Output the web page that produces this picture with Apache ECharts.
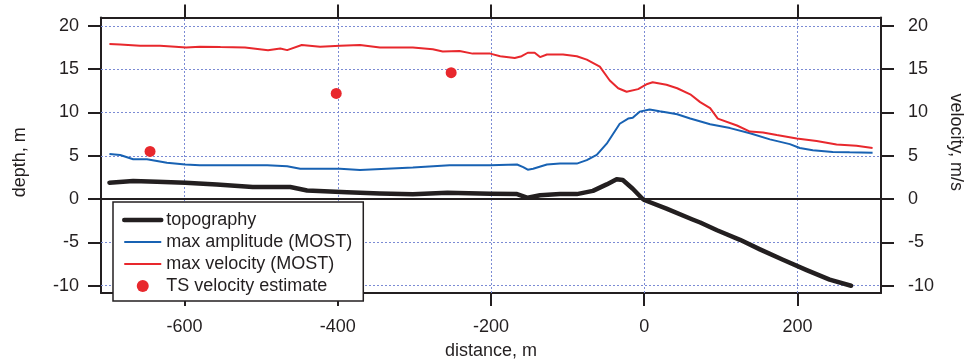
<!DOCTYPE html>
<html>
<head>
<meta charset="utf-8">
<script src="https://cdn.jsdelivr.net/npm/echarts@6/dist/echarts.min.js"></script>
<style>
  html, body { margin: 0; padding: 0; background: #fff; }
  #chart { width: 973px; height: 362px; }
</style>
</head>
<body>
<div id="chart"></div>
<script>
// distance (m) / value pairs
const topoX = [-698, -667, -636, -599, -558, -511, -462, -440, -388, -345, -302, -257, -201, -166, -152, -136, -110, -88, -67, -49, -36, -28, -15, -3, 0, 29, 63, 73, 95, 125, 151, 181, 212, 242, 270];
const topoY = [1.9, 2.1, 2.0, 1.9, 1.7, 1.4, 1.4, 1.0, 0.8, 0.65, 0.55, 0.73, 0.62, 0.58, 0.15, 0.45, 0.58, 0.58, 0.95, 1.7, 2.3, 2.2, 1.2, 0.1, -0.1, -1.1, -2.35, -2.7, -3.6, -4.7, -5.8, -7.0, -8.2, -9.3, -10.0];

const ampX = [-698, -684, -667, -649, -623, -599, -580, -537, -492, -466, -449, -397, -371, -302, -254, -201, -166, -158, -152, -145, -127, -110, -88, -75, -62, -49, -32, -21, -15, -6, 7, 20, 30, 43, 60, 86, 112, 138, 164, 190, 203, 220, 246, 268, 298];
const ampY = [5.2, 5.1, 4.6, 4.6, 4.2, 4.0, 3.9, 3.9, 3.9, 3.8, 3.5, 3.5, 3.35, 3.65, 3.9, 3.9, 4.0, 3.7, 3.4, 3.5, 4.0, 4.1, 4.1, 4.5, 5.1, 6.4, 8.7, 9.3, 9.4, 10.1, 10.35, 10.15, 10.0, 9.8, 9.3, 8.65, 8.2, 7.6, 6.9, 6.35, 5.9, 5.65, 5.45, 5.4, 5.35];

const velX = [-698, -684, -658, -632, -612, -598, -580, -553, -521, -491, -475, -466, -447, -423, -397, -371, -345, -302, -276, -263, -241, -224, -201, -188, -169, -160, -152, -143, -136, -127, -106, -88, -75, -58, -45, -34, -23, -8, 4, 11, 29, 43, 60, 73, 86, 96, 121, 138, 155, 173, 199, 225, 251, 277, 298];
const velY = [17.9, 17.85, 17.7, 17.7, 17.6, 17.5, 17.6, 17.55, 17.5, 17.2, 17.4, 17.2, 17.8, 17.6, 17.7, 17.8, 17.5, 17.5, 17.3, 17.05, 17.1, 16.8, 16.8, 16.5, 16.3, 16.5, 16.9, 16.9, 16.4, 16.7, 16.7, 16.5, 16.1, 15.3, 13.7, 12.8, 12.4, 12.7, 13.3, 13.5, 13.2, 12.8, 12.1, 11.2, 10.5, 9.3, 8.5, 7.8, 7.7, 7.4, 7.0, 6.7, 6.3, 6.15, 5.9];

const tsX = [-645, -402, -252];
const tsY = [5.5, 12.2, 14.6];

const xTicks = [-600, -400, -200, 0, 200];
const yTicks = [-10, -5, 0, 5, 10, 15, 20];

const zip = (xs, ys) => xs.map((x, i) => [x, ys[i]]);

const INK = "#231f20";
const RED = "#e8282d";
const BLUE = "#1862b3";
const GRID = "#7b8bd4";
const FONT = "'Liberation Sans', Arial, sans-serif";

const dotted = { color: GRID, width: 1, type: [2, 2] };

const gridLines = [
  ...xTicks.map((v) => ({ xAxis: v, lineStyle: dotted })),
  ...yTicks.filter((v) => v !== 0).map((v) => ({ yAxis: v, lineStyle: dotted })),
  { yAxis: 0, lineStyle: { color: INK, width: 2, type: "solid" } },
];

const axisBase = {
  axisLine: { show: true, onZero: false, lineStyle: { color: INK, width: 2 } },
  axisTick: { show: true, inside: false, length: 13, lineStyle: { color: INK, width: 2 } },
  splitLine: { show: false },
  nameTextStyle: { fontFamily: FONT, fontSize: 18, color: INK },
};

const chart = echarts.init(document.getElementById("chart"), null, { renderer: "canvas" });

chart.setOption({
  animation: false,
  backgroundColor: "#fff",
  textStyle: { fontFamily: FONT },
  grid: { left: 101, right: 92, top: 17.5, bottom: 69, containLabel: false, outerBoundsMode: "none" },
  xAxis: [
    {
      ...axisBase,
      type: "value",
      position: "bottom",
      min: -709,
      max: 309,
      axisTick: { ...axisBase.axisTick, customValues: xTicks },
      axisLabel: { customValues: xTicks, margin: 25, fontSize: 18, color: INK, fontFamily: FONT },
      name: "distance, m",
      nameLocation: "middle",
      nameGap: 49,
    },
    {
      ...axisBase,
      type: "value",
      position: "top",
      min: -709,
      max: 309,
      axisTick: { ...axisBase.axisTick, customValues: xTicks },
      axisLabel: { show: false },
    },
  ],
  yAxis: [
    {
      ...axisBase,
      type: "value",
      position: "left",
      min: -10.84,
      max: 20.97,
      axisTick: { ...axisBase.axisTick, customValues: yTicks },
      axisLabel: { customValues: yTicks, margin: 22, fontSize: 18, color: INK, fontFamily: FONT },
      name: "depth, m",
      nameLocation: "middle",
      nameGap: 72,
      nameTextStyle: { ...axisBase.nameTextStyle, padding: [0, 14, 0, 0] },
    },
    {
      ...axisBase,
      type: "value",
      position: "right",
      min: -10.84,
      max: 20.97,
      axisTick: { ...axisBase.axisTick, customValues: yTicks },
      axisLabel: { customValues: yTicks, margin: 27, fontSize: 18, color: INK, fontFamily: FONT },
      name: "velocity, m/s",
      nameLocation: "middle",
      nameRotate: -90,
      nameGap: 66,
      nameTextStyle: { ...axisBase.nameTextStyle, padding: [0, 26, 0, 0] },
    },
  ],
  legend: {
    orient: "vertical",
    left: 113,
    top: 202,
    backgroundColor: "#fff",
    borderColor: INK,
    borderWidth: 1.5,
    borderRadius: 0,
    padding: [9, 11, 6, 9],
    itemGap: 4,
    itemWidth: 37,
    itemHeight: 12,
    textStyle: { fontSize: 18, color: INK, fontFamily: FONT },
    data: [
      { name: "topography", itemStyle: { opacity: 0 }, lineStyle: { width: 4.5 } },
      { name: "max amplitude (MOST)", itemStyle: { opacity: 0 }, lineStyle: { width: 2 } },
      { name: "max velocity (MOST)", itemStyle: { opacity: 0 }, lineStyle: { width: 2 } },
      { name: "TS velocity estimate", icon: "circle", itemStyle: { color: RED, opacity: 1 } },
    ],
  },
  series: [
    {
      name: "grid",
      type: "line",
      data: [],
      silent: true,
      markLine: {
        silent: true,
        z: 1,
        symbol: ["none", "none"],
        label: { show: false },
        emphasis: { disabled: true },
        data: gridLines,
      },
    },
    {
      name: "topography",
      type: "line",
      xAxisIndex: 0,
      yAxisIndex: 0,
      data: zip(topoX, topoY),
      showSymbol: false,
      symbol: "none",
      color: INK,
      lineStyle: { color: INK, width: 4.5, join: "round", cap: "round" },
      z: 3,
    },
    {
      name: "max amplitude (MOST)",
      type: "line",
      xAxisIndex: 0,
      yAxisIndex: 0,
      data: zip(ampX, ampY),
      showSymbol: false,
      symbol: "none",
      color: BLUE,
      lineStyle: { color: BLUE, width: 2 },
      z: 3,
    },
    {
      name: "max velocity (MOST)",
      type: "line",
      xAxisIndex: 0,
      yAxisIndex: 1,
      data: zip(velX, velY),
      showSymbol: false,
      symbol: "none",
      color: RED,
      lineStyle: { color: RED, width: 2 },
      z: 3,
    },
    {
      name: "TS velocity estimate",
      type: "scatter",
      xAxisIndex: 0,
      yAxisIndex: 1,
      data: zip(tsX, tsY),
      symbol: "circle",
      symbolSize: 11,
      itemStyle: { color: RED, opacity: 1 },
      z: 3,
    },
  ],
});
</script>
</body>
</html>
